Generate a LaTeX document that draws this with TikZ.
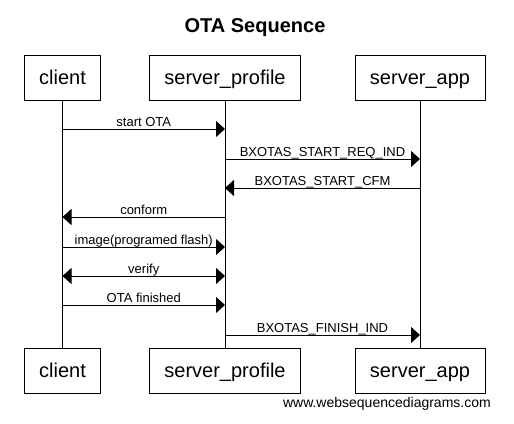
\documentclass[tikz,border=0pt]{standalone}
\usepackage{fontspec}
\setmainfont{Liberation Sans}
\usetikzlibrary{arrows.meta}

\begin{document}
\begin{tikzpicture}[x=1pt,y=-1pt,>={Triangle[length=9pt,width=16pt]},
    actor/.style={draw,line width=1pt,minimum height=45pt,inner sep=0pt,
      text height=14pt,text depth=0pt,font=\fontsize{20}{24}\selectfont},
    msg/.style={line width=1pt,->},
    lbl/.style={midway,anchor=base,yshift=3pt,inner sep=0pt,font=\fontsize{13}{15}\selectfont}]
      \useasboundingbox (0,0) rectangle (514,423);
      \node[anchor=base,font=\bfseries\fontsize{20}{24}\selectfont] (title) at (255,32) {OTA Sequence};
      % participants, top and bottom
      \node[actor,minimum width=76pt] (client) at (62.5,77.5) {client};
      \node[actor,minimum width=151pt] (profile) at (225,77.5) {server\_profile};
      \node[actor,minimum width=130pt] (app) at (420,77.5) {server\_app};
      \node[actor,minimum width=76pt] (client2) at (62.5,370.5) {client};
      \node[actor,minimum width=151pt] (profile2) at (225,370.5) {server\_profile};
      \node[actor,minimum width=130pt] (app2) at (420,370.5) {server\_app};
      \draw[line width=1pt] (client) -- (client2);
      \draw[line width=1pt] (profile) -- (profile2);
      \draw[line width=1pt] (app) -- (app2);
      % one row per message
      \foreach \y [count=\i] in {129,159,188,217,247,276,305,335} {
        \coordinate (c\i) at (client |- 0,\y);
        \coordinate (p\i) at (profile |- 0,\y);
        \coordinate (a\i) at (app |- 0,\y);
      }
      \draw[msg] (c1) -- node[lbl] {start OTA} (p1);
      \draw[msg] (p2) -- node[lbl] {BXOTAS\_START\_REQ\_IND} (a2);
      \draw[msg] (a3) -- node[lbl] {BXOTAS\_START\_CFM} (p3);
      \draw[msg] (p4) -- node[lbl] {conform} (c4);
      \draw[msg] (c5) -- node[lbl] {image(programed flash)} (p5);
      \draw[msg,<->] (c6) -- node[lbl] {verify} (p6);
      \draw[msg] (c7) -- node[lbl] {OTA finished} (p7);
      \draw[msg] (p8) -- node[lbl] {BXOTAS\_FINISH\_IND} (a8);
      \node[anchor=base east,inner sep=0pt,font=\fontsize{14}{16}\selectfont] (credit) at (491,407) {www.websequencediagrams.com};
    \end{tikzpicture}
\end{document}
